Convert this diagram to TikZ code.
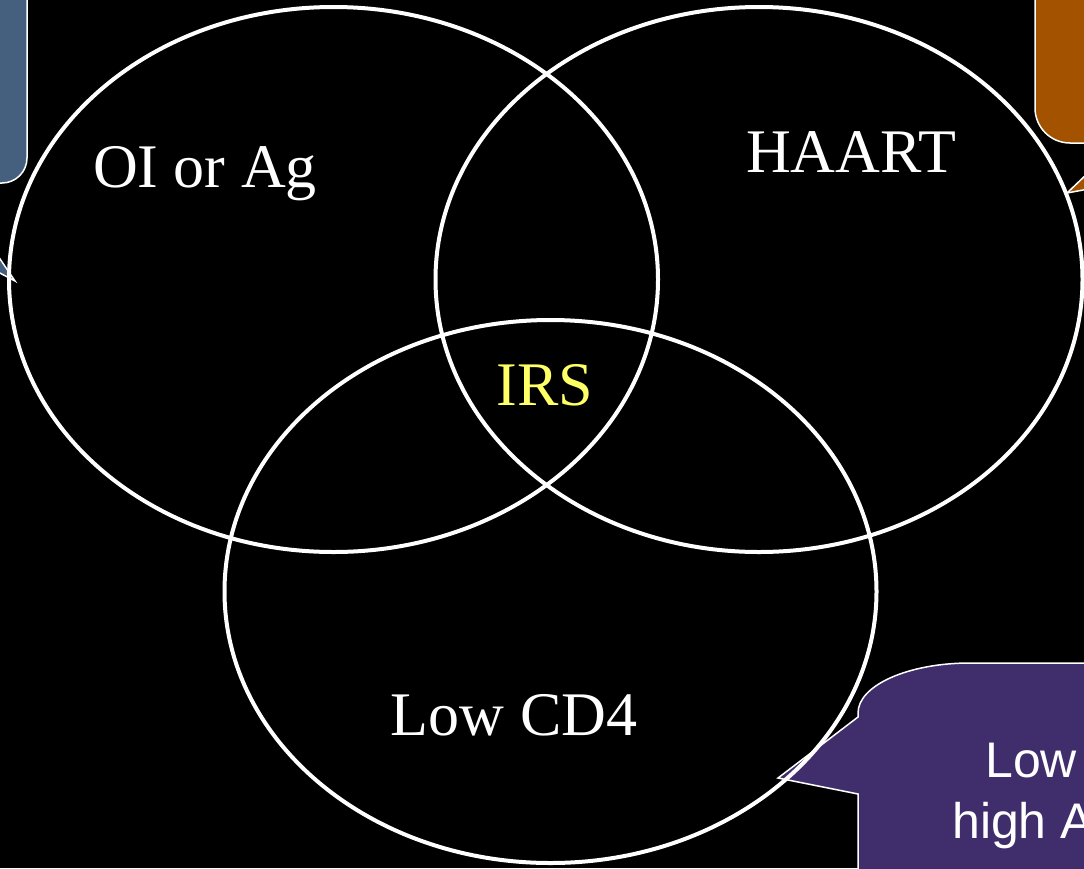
\documentclass[tikz,border=0pt]{standalone}
\usepackage{fontspec}
\setmainfont{Liberation Serif}
\newfontfamily\calloutfont{Liberation Sans}
\usepackage{tikz}
\usetikzlibrary{calc,positioning}
\definecolor{oiblue}{HTML}{45607F}
\definecolor{haartorange}{HTML}{A35200}
\definecolor{cdpurple}{HTML}{3F2E6B}
\definecolor{irsyellow}{HTML}{FFFF66}
\tikzset{
	venn/.style={draw=white,line width=4pt},
	set label/.style={text=white,font=\fontsize{62}{62}\selectfont,inner sep=0pt,anchor=base},
	callout/.style={draw=white,line width=1.5pt,fill=#1,line join=miter},
	callout text/.style={text=white,font=\calloutfont\fontsize{50}{50}\selectfont,inner sep=0pt,anchor=base west}
}

\begin{document}
\begin{tikzpicture}[x=1pt,y=-1pt]
  \fill[black] (0,0) rectangle (1084,868);
  \useasboundingbox (0,0) rectangle (1084,868);
  \clip (0,0) rectangle (1084,868);
  % callouts, mostly cut off by the frame
  \draw[callout=oiblue] (-40,-40) -- (27,-40) -- (27,158) arc[start angle=0,end angle=-90,radius=25pt] -- (-40,183) -- cycle;
  \draw[callout=oiblue] (-40,200) -- (15,281) -- (-40,252) -- cycle;
  \draw[callout=haartorange] (1120,-40) -- (1035,-40) -- (1035,108) arc[start angle=180,end angle=270,radius=35pt] -- (1120,143) -- cycle;
  \draw[callout=haartorange] (1110,152) -- (1067,193) -- (1110,185) -- cycle;
  \draw[callout=cdpurple] (858,900) -- (858,794) -- (778,778) -- (858,717) -- (858,713)
    arc[start angle=180,end angle=90,x radius=112pt,y radius=50pt] -- (1120,663) -- (1120,900) -- cycle;
  % the three sets
  \draw[venn] (333.5,279.5) ellipse [x radius=324.5pt,y radius=272.5pt];
  \draw[venn] (759,279.5) ellipse [x radius=323.5pt,y radius=272.5pt];
  \draw[venn] (550.5,591.5) ellipse [x radius=326pt,y radius=271.5pt];
  \node[set label] (OIAg) at (205,187) {OI or Ag};
  \node[set label] (HAART) at (851,172) {HAART};
  \node[set label,text=irsyellow] (IRS) at (545,405) {IRS};
  \node[set label] (LowCD) at (514,735) {Low CD4};
  \node[callout text] (LowTxt) at (985,777) {Low};
  \node[callout text] (highTxt) at (952,838) {high A};
\end{tikzpicture}
\end{document}
